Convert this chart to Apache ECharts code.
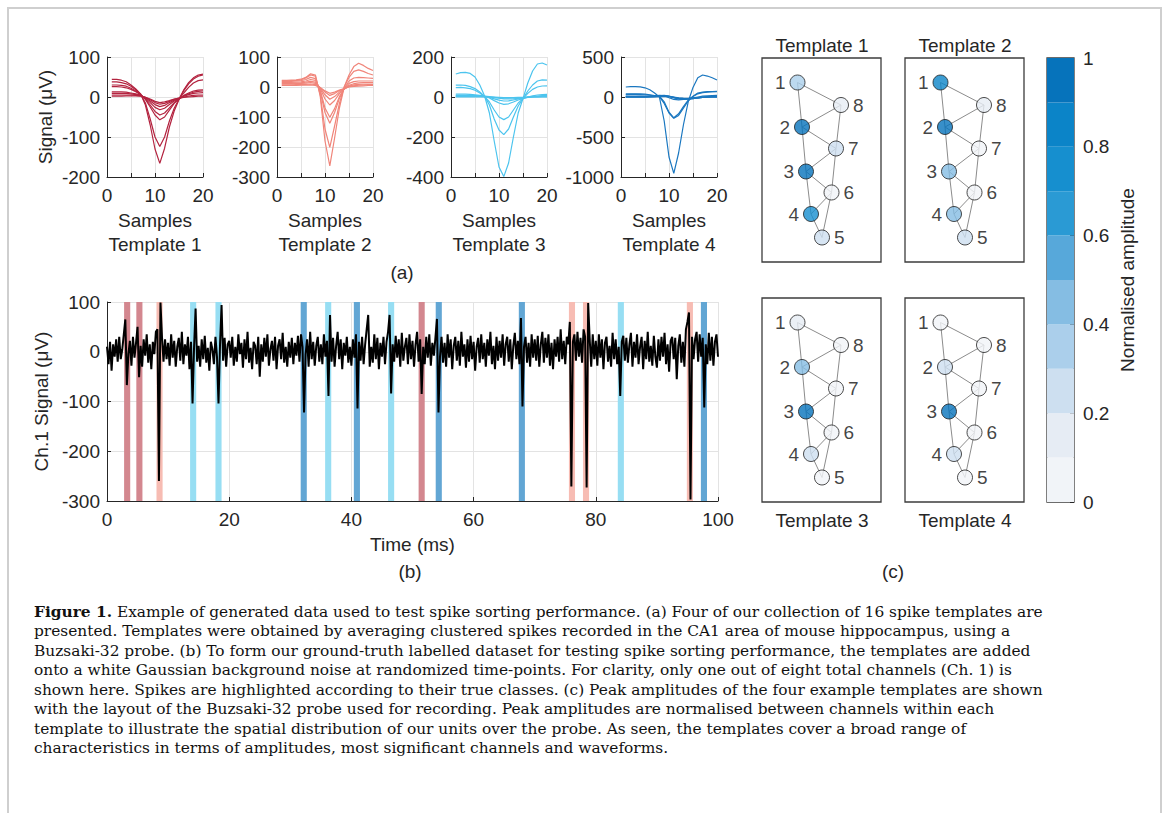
<!DOCTYPE html>
<html>
<head>
<meta charset="utf-8">
<script src="https://cdn.jsdelivr.net/npm/echarts@6/dist/echarts.min.js"></script>
<style>
  html, body { margin: 0; padding: 0; background: #fff; }
  #chart { width: 1171px; height: 813px; }
</style>
</head>
<body>
<div id="chart"></div>
<script>
// ---- data ----
const samples = [1, 2, 3, 4, 5, 6, 7, 8, 9, 10, 11, 12, 13, 14, 15, 16, 17, 18, 19, 20];

// 8 channels per template, µV
const template1 = [
  [44, 44, 42, 38, 30, 20, 8, -20, -70, -130, -166, -128, -75, -35, -6, 18, 36, 48, 55, 57],
  [38, 38, 36, 33, 27, 18, 7, -15, -55, -100, -124, -100, -60, -28, -5, 16, 33, 45, 52, 55],
  [30, 30, 29, 27, 22, 15, 6, -6, -25, -45, -57, -50, -33, -16, -5, 10, 24, 35, 41, 43],
  [26, 26, 25, 23, 19, 13, 6, -5, -20, -36, -45, -40, -27, -14, -5, 4, 10, 15, 17, 18],
  [13, 13, 13, 12, 10, 8, 5, -3, -14, -26, -32, -28, -19, -10, -4, 3, 8, 12, 14, 15],
  [9, 9, 9, 9, 8, 6, 4, -2, -10, -19, -24, -21, -14, -8, -4, 2, 6, 9, 10, 11],
  [5, 5, 5, 5, 5, 4, 3, -1, -7, -14, -18, -16, -11, -6, -3, 0, 2, 4, 5, 5],
  [2, 2, 2, 3, 3, 3, 2, -1, -5, -11, -14, -12, -9, -5, -3, -1, 0, 1, 2, 2]
];
const template2 = [
  [22, 22, 23, 24, 26, 32, 44, 40, -30, -180, -263, -170, -70, 0, 40, 68, 79, 72, 62, 55],
  [20, 20, 21, 22, 24, 30, 40, 36, -25, -140, -201, -130, -55, 0, 32, 52, 57, 52, 45, 40],
  [18, 18, 19, 20, 21, 25, 32, 28, -15, -85, -121, -85, -38, -5, 20, 30, 32, 31, 30, 29],
  [15, 15, 15, 16, 17, 20, 25, 22, -10, -70, -101, -72, -32, -6, 12, 18, 20, 20, 20, 20],
  [12, 12, 12, 13, 14, 16, 19, 16, -5, -40, -60, -45, -22, -8, 6, 11, 14, 15, 15, 15],
  [10, 10, 10, 11, 12, 13, 15, 12, -3, -26, -41, -32, -17, -7, 3, 7, 9, 10, 10, 10],
  [7, 7, 7, 8, 8, 9, 10, 8, -2, -17, -28, -22, -12, -6, 1, 4, 6, 7, 8, 8],
  [5, 5, 5, 5, 6, 6, 7, 5, -2, -13, -21, -17, -10, -5, 0, 2, 3, 4, 5, 5]
];
const template3 = [
  [115, 122, 123, 118, 100, 60, 5, -80, -220, -350, -398, -330, -200, -80, -8, 70, 130, 165, 170, 160],
  [59, 60, 58, 52, 42, 25, 3, -40, -110, -165, -188, -160, -100, -45, -8, 30, 60, 80, 86, 84],
  [47, 48, 46, 42, 34, 20, 3, -25, -65, -100, -113, -100, -65, -30, -8, 18, 38, 50, 55, 56],
  [14, 14, 14, 13, 11, 8, 4, -5, -18, -30, -37, -34, -25, -15, -8, 0, 6, 10, 12, 13],
  [5, 6, 6, 6, 6, 5, 3, -2, -9, -16, -20, -19, -15, -10, -6, -2, 2, 5, 7, 8],
  [8, 8, 8, 8, 7, 6, 4, 2, -2, -6, -9, -10, -9, -7, -5, -2, 0, 2, 3, 4],
  [3, 3, 3, 3, 3, 3, 2, 0, -3, -5, -6, -6, -5, -4, -3, -1, 0, 1, 2, 2],
  [1, 1, 1, 1, 1, 1, 1, 0, -1, -2, -3, -3, -3, -2, -2, -1, 0, 0, 1, 1]
];
const template4 = [
  [125, 130, 130, 127, 115, 90, 50, 0, -300, -750, -954, -700, -350, -60, 120, 240, 275, 262, 240, 212],
  [38, 40, 40, 38, 35, 28, 18, 5, -80, -200, -267, -230, -140, -50, 10, 50, 62, 66, 68, 70],
  [30, 32, 32, 30, 28, 22, 15, 10, -60, -190, -260, -210, -120, -40, 5, 40, 55, 62, 66, 68],
  [10, 10, 10, 10, 10, 12, 15, 20, 15, -10, -30, -35, -30, -20, -10, 0, 10, 15, 18, 20],
  [5, 5, 5, 5, 5, 8, 12, 18, 20, 10, -10, -25, -30, -28, -20, -10, 0, 5, 8, 10],
  [3, 3, 3, 3, 4, 5, 8, 12, 15, 10, -5, -18, -25, -25, -20, -12, -5, 0, 3, 5],
  [0, 0, 0, 0, 0, 2, 5, 8, 10, 5, -5, -15, -20, -20, -15, -10, -5, -2, 0, 0],
  [-2, -2, -2, -2, -2, 0, 2, 5, 8, 5, -2, -10, -15, -18, -15, -10, -6, -3, -2, -2]
];
const templates = [template1, template2, template3, template4];
const templateNames = ['Template 1', 'Template 2', 'Template 3', 'Template 4'];
const templateYMin = [-200, -300, -400, -1000];
const templateYMax = [100, 100, 200, 500];
const templateYStep = [100, 100, 200, 500];

// Ch.1 trace, one value every 0.25 ms (µV)
const traceStep = 0.25;
const trace = [
  10, -25, 20, -38, 15, -10, 25, -20, 30, -15, 5, 35, 65, -67, -5, 22, -28, 30, -12, 18,
  50, -51, 12, -30, 25, -8, 35, -22, 15, -35, 20, -5, 40, 45, -260, 99, 30, -20, 25, -15,
  18, -28, 35, -12, 22, -30, 10, 28, -18, 40, -25, 15, -8, 30, -35, 20, -104, 10, 87, -20,
  12, -30, 25, -15, 32, -22, 8, -38, 20, 5, -25, 30, -10, -104, 15, 94, -18, 28, -30, 15,
  22, -12, 30, -28, 10, -20, 35, -5, 18, -32, 25, -15, 40, -22, 8, -35, 20, 12, -25, 30,
  -50, 15, -20, 28, -10, 35, -28, 5, 22, -18, 30, -35, 12, 25, -15, 38, -22, 10, -30, 20,
  -12, 28, -25, 18, -8, 32, -20, 35, 10, -122, -5, 25, -30, 40, -15, 20, -28, 12, 30, -20,
  15, -25, 35, -10, 22, -89, 74, -20, 28, -30, 12, 40, -15, 25, -35, 18, -8, 30, -22, 10,
  -28, 25, -12, 35, -114, 20, -18, 30, -25, 15, 45, 74, -30, 10, -22, 35, -15, 28, -35, 18,
  -10, 30, -25, 20, 40, 74, -84, 15, -20, 32, -12, 25, -30, 38, -18, 10, 28, -25, 35, -15,
  22, -30, 15, 40, -20, 25, -85, 10, -25, 30, -12, 35, -28, 18, -8, 28, 66, -122, -10, 30,
  -22, 18, -30, 35, -12, 25, -35, 12, 30, -18, 22, -28, 40, -10, 15, -32, 25, -20, 32, -15,
  20, -38, 10, 28, -22, 35, -15, 18, -30, 25, -8, 40, -25, 12, -35, 30, -18, 22, -12, 35,
  -28, 15, 30, -20, 25, -35, 12, 38, -15, 22, -25, 68, -110, 10, 30, -22, 18, -30, 35, -12,
  25, -18, 32, -30, 15, 40, -22, 28, -12, 35, -28, 18, -35, 25, -10, 30, -20, 45, -15, 22,
  -25, 30, 15, 60, -271, 20, 35, -18, 40, -10, 28, -22, 45, 30, -273, 98, 25, -30, 35, -15,
  22, -28, 35, -12, 25, -35, 18, 30, -20, 12, -30, 38, -15, 25, -25, 10, -89, 20, 32, -18,
  28, -22, 15, 38, -30, 20, -12, 35, -25, 10, 30, -35, 22, -15, 40, -20, 12, -28, 32, -10,
  -32, 25, -18, 30, -10, 38, -25, 15, -40, 22, 30, -15, 28, -55, 12, 35, -22, 20, -30, 45,
  60, 79, -297, 30, -15, 25, 40, -20, 35, -10, 28, -112, 15, -25, 38, -18, 30, -28, 20, 35,
  -10
];

// spike times (ms) and true class (template index)
const spikeTimes = [3.3, 5.3, 8.6, 14.1, 18.25, 32.2, 36.2, 40.9, 46.5, 51.5, 54.3, 67.9, 76.1, 78.4, 84.1, 95.4, 97.7];
const spikeClass = [0, 0, 1, 2, 2, 3, 2, 3, 2, 0, 3, 3, 1, 1, 2, 1, 3];

// probe site layout (channels 1..8) and connections
const siteX = [35.5, 40, 44, 49, 60, 69.5, 74, 79];
const siteY = [24.5, 69, 113.5, 156, 179.5, 134.5, 90.5, 47];
const siteLinks = [[1, 8], [1, 2], [2, 8], [2, 7], [2, 3], [8, 7], [3, 7], [3, 6], [3, 4], [7, 6], [4, 6], [4, 5], [6, 5]];
// normalised peak amplitude per channel 1..8
const peakAmp = [
  [0.35, 0.95, 0.93, 0.75, 0.25, 0.05, 0.25, 0.15],
  [0.85, 0.95, 0.45, 0.45, 0.25, 0.05, 0.05, 0.15],
  [0.15, 0.45, 0.95, 0.25, 0.05, 0.05, 0.05, 0.05],
  [0.05, 0.25, 0.95, 0.25, 0.05, 0.05, 0.05, 0.05]
];

// ---- styles ----
const SANS = 'Liberation Sans, Arial, Helvetica, sans-serif';
const SERIF = 'DejaVu Serif, Liberation Serif, serif';
const TXT = '#262626';
const GRIDC = '#e3e3e3';
const lineColors = ['#b3233f', '#f0857a', '#4cc4ee', '#1a77c0'];
const bandColors = ['#d3878f', '#f7bcb3', '#97def3', '#62a6d4'];
const levelColors = ['#f1f4f8', '#e6ecf4', '#cddff0', '#abcfeb', '#85bde3',
                     '#57a8da', '#2a9ad4', '#168fcf', '#0b84c8', '#0673bb'];
const levelColor = v => levelColors[Math.min(9, Math.floor(v * 10))];

function valAxis(grid, min, max, interval, extra) {
  return Object.assign({
    type: 'value', gridIndex: grid, min: min, max: max, interval: interval,
    axisLine: { show: true, onZero: false, lineStyle: { color: TXT, width: 1 } },
    axisTick: { show: true, inside: true, length: 4, lineStyle: { color: TXT } },
    axisLabel: { color: TXT, fontSize: 19, fontFamily: SANS, margin: 7, formatter: v => String(v) },
    splitLine: { show: true, lineStyle: { color: GRIDC, width: 1 } }
  }, extra || {});
}

const chart = echarts.init(document.getElementById('chart'), null, { renderer: 'svg' });

const grids = [];
const xAxes = [];
const yAxes = [];
const series = [];

// (a) template waveforms
const wfLeft = [107, 277, 451, 621];
templates.forEach((tpl, k) => {
  grids.push({ left: wfLeft[k], top: 57, width: 96, height: 120 });
  xAxes.push(valAxis(k, 0, 20, 5, {
    axisLabel: { color: TXT, fontSize: 19, fontFamily: SANS, margin: 9,
      formatter: v => (v % 10 === 0 ? String(v) : '') },
    name: 'Samples\n' + templateNames[k], nameLocation: 'middle', nameGap: 31,
    nameTextStyle: { color: TXT, fontSize: 19, fontFamily: SANS, lineHeight: 24 }
  }));
  const ya = valAxis(k, templateYMin[k], templateYMax[k], templateYStep[k]);
  if (k === 0) {
    ya.name = 'Signal (\u03bcV)';
    ya.nameLocation = 'middle';
    ya.nameGap = 52;
    ya.nameTextStyle = { color: TXT, fontSize: 19, fontFamily: SANS };
  }
  yAxes.push(ya);
  tpl.forEach(ch => {
    series.push({
      type: 'line', xAxisIndex: k, yAxisIndex: k, silent: true,
      showSymbol: false, symbol: 'none',
      lineStyle: { color: lineColors[k], width: 1.2 },
      data: samples.map((s, i) => [s, ch[i]])
    });
  });
});

// (b) channel 1 trace
grids.push({ left: 107, top: 302, width: 611, height: 199 });
xAxes.push(valAxis(4, 0, 100, 20, {
  axisLabel: { color: TXT, fontSize: 19, fontFamily: SANS, margin: 9 },
  name: 'Time (ms)', nameLocation: 'middle', nameGap: 34,
  nameTextStyle: { color: TXT, fontSize: 19, fontFamily: SANS }
}));
yAxes.push(valAxis(4, -300, 100, 100, {
  name: 'Ch.1 Signal (\u03bcV)', nameLocation: 'middle', nameGap: 52,
  nameTextStyle: { color: TXT, fontSize: 19, fontFamily: SANS }
}));
series.push({
  type: 'line', xAxisIndex: 4, yAxisIndex: 4, silent: true,
  showSymbol: false, symbol: 'none', z: 5,
  lineStyle: { color: '#000', width: 2 },
  data: trace.map((v, i) => [i * traceStep, v]),
  markArea: {
    silent: true,
    data: spikeTimes.map((t, k) => [
      { xAxis: t - 0.5, itemStyle: { color: bandColors[spikeClass[k]], opacity: 1 } },
      { xAxis: t + 0.5 }
    ])
  }
});

// (c) probe layouts
const probeLeft = [762, 905, 762, 905];
const probeTop = [58, 58, 298, 298];
peakAmp.forEach((amp, k) => {
  const g = 5 + k;
  grids.push({ left: probeLeft[k], top: probeTop[k], width: 119, height: 204,
    show: true, borderColor: '#3c3c3c', borderWidth: 1.3, backgroundColor: '#fff' });
  xAxes.push({ type: 'value', gridIndex: g, min: 0, max: 119, show: false });
  yAxes.push({ type: 'value', gridIndex: g, min: 0, max: 204, inverse: true, show: false });
  series.push({
    type: 'lines', coordinateSystem: 'cartesian2d', xAxisIndex: g, yAxisIndex: g,
    silent: true, z: 2,
    lineStyle: { color: '#8c8c8c', width: 1, opacity: 1 },
    data: siteLinks.map(([a, b]) => ({
      coords: [[siteX[a - 1], siteY[a - 1]], [siteX[b - 1], siteY[b - 1]]]
    }))
  });
  series.push({
    type: 'scatter', xAxisIndex: g, yAxisIndex: g, silent: true, z: 3,
    symbolSize: 15,
    data: amp.map((v, i) => ({
      value: [siteX[i], siteY[i]],
      name: String(i + 1),
      itemStyle: { color: levelColor(v), borderColor: '#1e1e1e', borderWidth: 1 },
      label: { show: true, position: i < 4 ? 'left' : 'right', distance: 4,
        formatter: String(i + 1), color: '#111', fontSize: 19, fontFamily: SANS }
    }))
  });
});

// colorbar
grids.push({ left: 1047, top: 58, width: 27, height: 444,
  show: true, borderColor: '#3c3c3c', borderWidth: 1.3 });
xAxes.push({ type: 'category', gridIndex: 9, data: [''], show: false });
yAxes.push({
  type: 'value', gridIndex: 9, min: 0, max: 1, interval: 0.2, position: 'right',
  axisLine: { show: false },
  axisTick: { show: true, inside: true, length: 4, lineStyle: { color: TXT } },
  axisLabel: { color: TXT, fontSize: 19, fontFamily: SANS, margin: 9,
    formatter: v => (v > 0 && v < 1 ? v.toFixed(1) : String(v)) },
  splitLine: { show: false },
  name: 'Normalised amplitude', nameLocation: 'middle', nameRotate: 90, nameGap: 44,
  nameTextStyle: { color: TXT, fontSize: 19, fontFamily: SANS }
});
levelColors.forEach(c => {
  series.push({
    type: 'bar', xAxisIndex: 9, yAxisIndex: 9, stack: 'cb', silent: true,
    barWidth: '100%', itemStyle: { color: c }, data: [0.1]
  });
});

// texts
function txt(x, y, s, size, family) {
  return {
    type: 'text', x: x, y: y, silent: true,
    style: { text: s, fill: TXT, font: size + 'px ' + family,
      align: 'center', verticalAlign: 'middle', textAlign: 'center', textVerticalAlign: 'middle' }
  };
}

const captionLines = [
  '{b|Figure 1.} Example of generated data used to test spike sorting performance. (a) Four of our collection of 16 spike templates are',
  'presented. Templates were obtained by averaging clustered spikes recorded in the CA1 area of mouse hippocampus, using a',
  'Buzsaki-32 probe. (b) To form our ground-truth labelled dataset for testing spike sorting performance, the templates are added',
  'onto a white Gaussian background noise at randomized time-points. For clarity, only one out of eight total channels (Ch. 1) is',
  'shown here. Spikes are highlighted according to their true classes. (c) Peak amplitudes of the four example templates are shown',
  'with the layout of the Buzsaki-32 probe used for recording. Peak amplitudes are normalised between channels within each',
  'template to illustrate the spatial distribution of our units over the probe. As seen, the templates cover a broad range of',
  'characteristics in terms of amplitudes, most significant channels and waveforms.'
];
const CAP = 15.4;
const CAP_LH = 19.5;

const graphics = [
  { type: 'rect', silent: true, shape: { x: 8, y: 8, width: 1153, height: 900 },
    style: { fill: 'none', stroke: '#cfcfcf', lineWidth: 2 } },
  txt(402, 272, '(a)', 19, SANS),
  txt(410, 571, '(b)', 19, SANS),
  txt(893, 571, '(c)', 19, SANS),
  txt(822, 45, 'Template 1', 19, SANS),
  txt(965, 45, 'Template 2', 19, SANS),
  txt(822, 520, 'Template 3', 19, SANS),
  txt(965, 520, 'Template 4', 19, SANS),
  {
    type: 'text', x: 34, y: 602, silent: true,
    style: { text: captionLines.join('\n'), fill: '#111', font: CAP + 'px ' + SERIF,
      lineHeight: CAP_LH, align: 'left', verticalAlign: 'top', textAlign: 'left', textVerticalAlign: 'top',
      rich: { b: { fontWeight: 'bold', fontSize: CAP, fontFamily: SERIF, fill: '#111', lineHeight: CAP_LH } } }
  }
];

chart.setOption({
  animation: false,
  backgroundColor: '#fff',
  grid: grids,
  xAxis: xAxes,
  yAxis: yAxes,
  series: series,
  graphic: graphics
});
</script>
</body>
</html>
